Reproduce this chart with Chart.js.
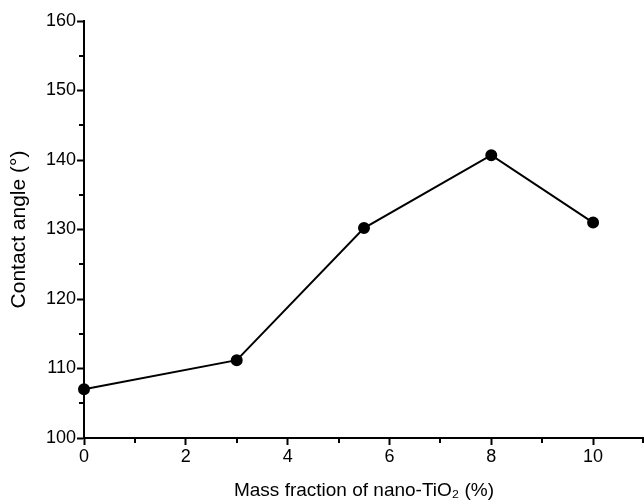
<!DOCTYPE html>
<html>
<head>
<meta charset="utf-8">
<script src="https://cdn.jsdelivr.net/npm/chart.js@4/dist/chart.umd.min.js"></script>
<style>
html,body{margin:0;padding:0;background:#fff;}
#wrap{width:644px;height:500px;position:relative;}
</style>
</head>
<body>
<div id="wrap"><canvas id="c" width="644" height="500"></canvas></div>
<script>
const massFraction = [0, 3, 5.5, 8, 10];
const contactAngle = [107.0, 111.2, 130.2, 140.7, 131.0];
const xMajorTicks = [0, 2, 4, 6, 8, 10];
const xMinorTicks = [1, 3, 5, 7, 9, 11];
const yMajorTicks = [100, 110, 120, 130, 140, 150, 160];
const yMinorTicks = [105, 115, 125, 135, 145, 155];

const FONT = 'Liberation Sans, Arial, sans-serif';

const minorTicks = {
  id: 'minorTicks',
  afterDraw(chart) {
    const ctx = chart.ctx;
    const xs = chart.scales.x, ys = chart.scales.y;
    ctx.save();
    ctx.strokeStyle = '#000';
    ctx.lineWidth = 2;
    ctx.beginPath();
    xMinorTicks.forEach(v => {
      let px = Math.round(xs.getPixelForValue(v));
      px = Math.min(px, chart.width - 1);
      ctx.moveTo(px, ys.bottom);
      ctx.lineTo(px, ys.bottom + 5);
    });
    yMinorTicks.forEach(v => {
      const py = Math.round(ys.getPixelForValue(v));
      ctx.moveTo(xs.left, py);
      ctx.lineTo(xs.left - 5, py);
    });
    ctx.stroke();
    ctx.restore();
  }
};

new Chart(document.getElementById('c'), {
  type: 'scatter',
  data: {
    datasets: [{
      data: massFraction.map((x, i) => ({x: x, y: contactAngle[i]})),
      showLine: true,
      borderColor: '#000',
      backgroundColor: '#000',
      borderWidth: 2,
      pointRadius: 5,
      pointHoverRadius: 5,
      tension: 0,
      clip: false
    }]
  },
  options: {
    responsive: false,
    animation: false,
    devicePixelRatio: 1,
    layout: {autoPadding: false, padding: {left: 0, right: 0, top: 21, bottom: 0}},
    plugins: {legend: {display: false}, tooltip: {enabled: false}},
    scales: {
      x: {
        type: 'linear',
        min: 0, max: 11,
        afterBuildTicks(s) { s.ticks = xMajorTicks.map(v => ({value: v})); },
        afterFit(s) { s.height = 62; },
        border: {display: true, color: '#000', width: 2},
        grid: {display: true, drawOnChartArea: false, color: '#000', tickColor: '#000', tickLength: 7, tickWidth: 2},
        ticks: {color: '#000', font: {family: FONT, size: 18}, padding: 1, maxRotation: 0},
        title: {display: true, text: 'Mass fraction of nano-TiO\u2082 (%)', color: '#000', font: {family: FONT, size: 19, lineHeight: 1}, padding: {top: 0, bottom: 0}}
      },
      y: {
        type: 'linear',
        min: 100, max: 160,
        afterBuildTicks(s) { s.ticks = yMajorTicks.map(v => ({value: v})); },
        afterFit(s) { s.width = 84; },
        border: {display: true, color: '#000', width: 2},
        grid: {display: true, drawOnChartArea: false, color: '#000', tickColor: '#000', tickLength: 7, tickWidth: 2},
        ticks: {color: '#000', font: {family: FONT, size: 18}, padding: 1},
        title: {display: true, text: 'Contact angle (°)', color: '#000', font: {family: FONT, size: 21, lineHeight: 1}, padding: {top: 9, bottom: 0}}
      }
    }
  },
  plugins: [minorTicks]
});
</script>
</body>
</html>
